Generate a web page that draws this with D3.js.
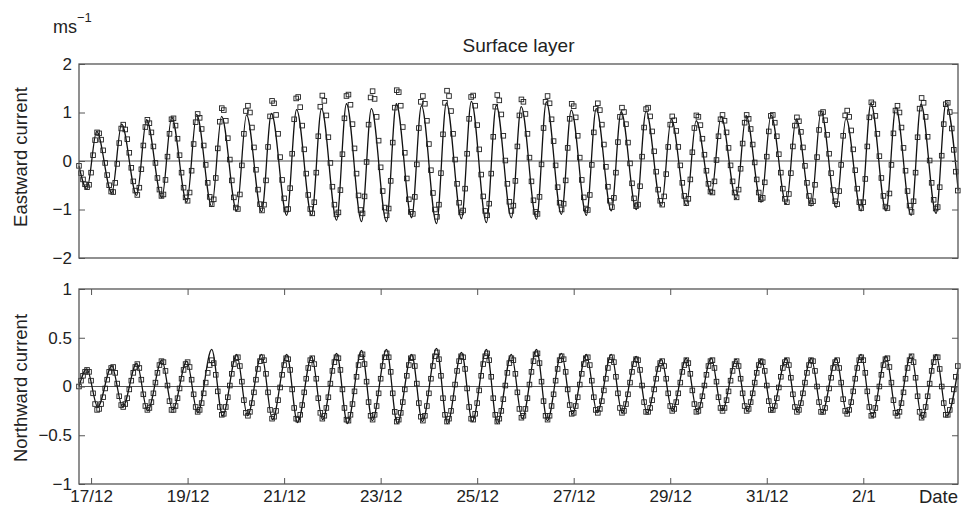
<!DOCTYPE html>
<html>
<head>
<meta charset="utf-8">
<script src="https://cdnjs.cloudflare.com/ajax/libs/d3/7.8.5/d3.min.js"></script>
<style>
  body { margin: 0; background: #fff; }
  text { font-family: "Liberation Sans", Arial, Helvetica, sans-serif; }
</style>
</head>
<body>
<div class="chart"></div>
<script>
// time reference: hours counted from 17/12 00:00
var baseDay = new Date(2000, 11, 17);
var firstHour = -6;     // left edge of the plots
var lastHour = 431.1;   // right edge of the plots

// date ticks (bottom panel)
var tickDays = ["2000-12-17", "2000-12-19", "2000-12-21", "2000-12-23", "2000-12-25",
  "2000-12-27", "2000-12-29", "2000-12-31", "2001-01-02"];
var tickLabels = ["17/12", "19/12", "21/12", "23/12", "25/12", "27/12", "29/12", "31/12", "2/1"];

var eastTicks = [-2, -1, 0, 1, 2];
var eastTickLabels = ["\u22122", "\u22121", "0", "1", "2"];
var northTicks = [-1, -0.5, 0, 0.5, 1];
var northTickLabels = ["\u22121", "\u22120.5", "0", "0.5", "1"];

// model (solid line): turning points [hour, m/s]
var modelEast = [[-6, -0.1], [-2.1, -0.58], [2.8, 0.61], [10.3, -0.66], [15.2, 0.76], [22.7, -0.71],
  [27.6, 0.85], [35.2, -0.76], [40.1, 0.90], [47.6, -0.85], [52.5, 0.96], [60.0, -0.94],
  [64.9, 0.92], [72.4, -1.03], [77.3, 0.95], [84.8, -1.05], [89.7, 0.98], [97.3, -1.12],
  [102.2, 1.06], [109.7, -1.12], [114.6, 1.08], [122.1, -1.22], [127.0, 1.18], [134.5, -1.25],
  [139.4, 1.08], [146.9, -1.25], [151.8, 1.18], [159.4, -1.17], [164.3, 1.14], [171.8, -1.29],
  [176.7, 1.20], [184.2, -1.19], [189.1, 1.23], [196.6, -1.27], [201.5, 1.15], [209.0, -1.17],
  [213.9, 1.12], [221.5, -1.20], [226.4, 1.22], [233.9, -1.10], [238.8, 1.05], [246.3, -1.12],
  [251.2, 1.08], [258.7, -1.03], [263.6, 1.02], [271.1, -1.00], [276.0, 1.03], [283.6, -0.93],
  [288.5, 0.87], [296.0, -0.92], [300.9, 0.83], [308.4, -0.68], [313.3, 0.92], [320.8, -0.78],
  [325.7, 0.94], [333.2, -0.85], [338.1, 0.95], [345.7, -0.89], [350.6, 0.87], [358.1, -0.93],
  [363.0, 1.03], [370.5, -0.96], [375.4, 0.88], [382.9, -1.03], [387.8, 1.19], [395.3, -1.03],
  [400.2, 1.10], [407.8, -1.12], [412.7, 1.17], [420.2, -1.08], [425.1, 1.19], [431.2, -0.61]];

var modelNorth = [[-6, 0.0], [-2.1, 0.18], [3.3, -0.21], [10.3, 0.21], [15.7, -0.21], [22.7, 0.24],
  [28.1, -0.25], [35.2, 0.27], [40.6, -0.24], [47.6, 0.26], [53.0, -0.27], [60.0, 0.38],
  [65.4, -0.30], [72.4, 0.33], [77.8, -0.30], [84.8, 0.33], [90.2, -0.34], [97.3, 0.33],
  [102.7, -0.37], [109.7, 0.31], [115.1, -0.34], [122.1, 0.34], [127.5, -0.38], [134.5, 0.37],
  [139.9, -0.35], [146.9, 0.38], [152.3, -0.38], [159.4, 0.33], [164.8, -0.36], [171.8, 0.39],
  [177.2, -0.38], [184.2, 0.35], [189.6, -0.36], [196.6, 0.38], [202.0, -0.38], [209.0, 0.33],
  [214.4, -0.33], [221.5, 0.38], [226.9, -0.35], [233.9, 0.34], [239.3, -0.28], [246.3, 0.33],
  [251.7, -0.27], [258.7, 0.33], [264.1, -0.27], [271.1, 0.31], [276.5, -0.27], [283.6, 0.28],
  [289.0, -0.25], [296.0, 0.29], [301.4, -0.26], [308.4, 0.29], [313.8, -0.25], [320.8, 0.28],
  [326.2, -0.25], [333.2, 0.28], [338.6, -0.25], [345.7, 0.29], [351.1, -0.26], [358.1, 0.29],
  [363.5, -0.27], [370.5, 0.29], [375.9, -0.28], [382.9, 0.33], [388.3, -0.31], [395.3, 0.31],
  [400.7, -0.30], [407.8, 0.33], [413.2, -0.33], [420.2, 0.33], [425.6, -0.30], [431.2, 0.19]];

// observations (squares): hourly values starting at firstHour
var obsEast = [-0.10, -0.25, -0.38, -0.48, -0.54,
  -0.49, -0.24, 0.12, 0.43, 0.59, 0.57, 0.44, 0.22, -0.04, -0.29, -0.50, -0.63,
  -0.64, -0.45, -0.06, 0.37, 0.67, 0.75, 0.65, 0.45, 0.17, -0.14, -0.42, -0.61, -0.70,
  -0.55, -0.17, 0.32, 0.70, 0.85, 0.78, 0.59, 0.30, -0.04, -0.35, -0.59, -0.72,
  -0.69, -0.39, 0.09, 0.56, 0.86, 0.88, 0.73, 0.46, 0.12, -0.24, -0.55, -0.75,
  -0.82, -0.65, -0.20, 0.35, 0.80, 0.97, 0.89, 0.66, 0.32, -0.08, -0.45, -0.74, -0.89,
  -0.79, -0.35, 0.26, 0.81, 1.09, 1.05, 0.83, 0.47, 0.03, -0.40, -0.75, -0.96,
  -0.99, -0.69, -0.09, 0.56, 1.03, 1.14, 1.00, 0.69, 0.28, -0.18, -0.59, -0.89, -1.02,
  -0.90, -0.40, 0.29, 0.92, 1.24, 1.19, 0.95, 0.56, 0.08, -0.39, -0.77, -1.00,
  -0.99, -0.56, 0.15, 0.86, 1.29, 1.32, 1.11, 0.73, 0.24, -0.26, -0.70, -0.99,
  -1.08, -0.85, -0.24, 0.51, 1.12, 1.35, 1.24, 0.94, 0.49, -0.04, -0.53, -0.90, -1.10,
  -1.06, -0.60, 0.14, 0.88, 1.34, 1.37, 1.16, 0.76, 0.26, -0.26, -0.71, -1.01,
  -1.08, -0.73, -0.02, 0.75, 1.31, 1.44, 1.28, 0.91, 0.42, -0.13, -0.62, -0.96, -1.12,
  -0.98, -0.41, 0.38, 1.10, 1.46, 1.42, 1.14, 0.70, 0.17, -0.36, -0.79, -1.05,
  -1.09, -0.74, -0.07, 0.68, 1.22, 1.34, 1.18, 0.83, 0.35, -0.19, -0.66, -1.00, -1.15,
  -0.90, -0.25, 0.55, 1.20, 1.45, 1.34, 1.03, 0.56, 0.03, -0.47, -0.86, -1.06,
  -1.02, -0.57, 0.15, 0.87, 1.32, 1.35, 1.14, 0.74, 0.24, -0.28, -0.73, -1.03,
  -1.12, -0.88, -0.26, 0.50, 1.12, 1.36, 1.25, 0.96, 0.52, 0.01, -0.47, -0.84, -1.03,
  -0.92, -0.41, 0.30, 0.94, 1.27, 1.22, 0.97, 0.56, 0.07, -0.42, -0.81, -1.05,
  -1.09, -0.74, -0.07, 0.68, 1.22, 1.34, 1.19, 0.86, 0.41, -0.09, -0.54, -0.86, -1.00,
  -0.88, -0.40, 0.27, 0.87, 1.18, 1.13, 0.90, 0.52, 0.07, -0.39, -0.75, -0.98,
  -1.01, -0.70, -0.08, 0.59, 1.08, 1.19, 1.05, 0.75, 0.34, -0.12, -0.53, -0.82, -0.95,
  -0.76, -0.24, 0.39, 0.91, 1.10, 1.01, 0.76, 0.38, -0.05, -0.46, -0.77, -0.93,
  -0.90, -0.52, 0.09, 0.69, 1.07, 1.10, 0.92, 0.61, 0.20, -0.22, -0.59, -0.82,
  -0.90, -0.73, -0.27, 0.29, 0.75, 0.92, 0.84, 0.62, 0.29, -0.09, -0.45, -0.72, -0.87,
  -0.78, -0.38, 0.18, 0.68, 0.94, 0.91, 0.74, 0.46, 0.13, -0.20, -0.47, -0.63,
  -0.65, -0.42, 0.02, 0.51, 0.86, 0.95, 0.83, 0.59, 0.27, -0.09, -0.42, -0.65, -0.75,
  -0.59, -0.16, 0.36, 0.79, 0.95, 0.87, 0.66, 0.34, -0.03, -0.38, -0.65, -0.79,
  -0.76, -0.44, 0.09, 0.61, 0.93, 0.95, 0.79, 0.51, 0.14, -0.24, -0.57, -0.78,
  -0.85, -0.68, -0.25, 0.30, 0.73, 0.90, 0.82, 0.60, 0.28, -0.10, -0.45, -0.72, -0.87,
  -0.83, -0.49, 0.08, 0.64, 0.98, 1.01, 0.84, 0.54, 0.15, -0.25, -0.60, -0.83,
  -0.89, -0.62, -0.08, 0.52, 0.94, 1.04, 0.91, 0.63, 0.24, -0.19, -0.57, -0.85, -0.97,
  -0.85, -0.37, 0.30, 0.90, 1.21, 1.17, 0.93, 0.56, 0.10, -0.35, -0.72, -0.94,
  -0.97, -0.67, -0.08, 0.57, 1.04, 1.14, 1.00, 0.69, 0.27, -0.20, -0.62, -0.92, -1.05,
  -0.83, -0.24, 0.49, 1.08, 1.30, 1.20, 0.91, 0.50, 0.01, -0.45, -0.80, -0.98,
  -0.95, -0.54, 0.11, 0.76, 1.17, 1.20, 1.01, 0.67, 0.23, -0.22, -0.61];

var obsNorth = [0.00, 0.06, 0.11, 0.15, 0.17,
  0.15, 0.06, -0.07, -0.18, -0.24, -0.23, -0.18, -0.11, -0.02, 0.07, 0.15, 0.19,
  0.20, 0.14, 0.03, -0.10, -0.19, -0.21, -0.18, -0.12, -0.03, 0.06, 0.14, 0.20, 0.23,
  0.19, 0.07, -0.08, -0.20, -0.24, -0.22, -0.16, -0.07, 0.04, 0.14, 0.22, 0.26,
  0.25, 0.16, 0.01, -0.15, -0.24, -0.24, -0.20, -0.12, -0.02, 0.08, 0.17, 0.23,
  0.25, 0.20, 0.07, -0.08, -0.21, -0.26, -0.24, -0.17, -0.07, 0.04, 0.14, 0.22, 0.27,
  0.24, 0.12, -0.05, -0.21, -0.29, -0.28, -0.21, -0.11, 0.01, 0.13, 0.23, 0.29,
  0.30, 0.21, 0.05, -0.14, -0.27, -0.30, -0.26, -0.17, -0.06, 0.07, 0.18, 0.26, 0.30,
  0.27, 0.13, -0.06, -0.24, -0.33, -0.31, -0.25, -0.14, -0.01, 0.12, 0.22, 0.29,
  0.28, 0.17, -0.03, -0.22, -0.33, -0.34, -0.29, -0.19, -0.06, 0.08, 0.19, 0.27,
  0.29, 0.23, 0.08, -0.12, -0.27, -0.33, -0.30, -0.22, -0.11, 0.03, 0.16, 0.25, 0.30,
  0.29, 0.17, -0.03, -0.22, -0.34, -0.35, -0.29, -0.18, -0.05, 0.10, 0.22, 0.30,
  0.33, 0.23, 0.05, -0.16, -0.30, -0.34, -0.29, -0.20, -0.07, 0.08, 0.21, 0.30, 0.34,
  0.30, 0.15, -0.07, -0.26, -0.36, -0.34, -0.27, -0.16, -0.03, 0.11, 0.22, 0.29,
  0.30, 0.21, 0.03, -0.17, -0.31, -0.35, -0.30, -0.20, -0.07, 0.08, 0.21, 0.31, 0.35,
  0.28, 0.11, -0.12, -0.29, -0.36, -0.33, -0.25, -0.12, 0.02, 0.16, 0.26, 0.31,
  0.30, 0.18, -0.02, -0.21, -0.33, -0.34, -0.28, -0.17, -0.04, 0.11, 0.23, 0.31,
  0.34, 0.27, 0.10, -0.12, -0.29, -0.36, -0.33, -0.25, -0.13, 0.01, 0.14, 0.24, 0.29,
  0.27, 0.13, -0.06, -0.23, -0.32, -0.30, -0.23, -0.12, 0.02, 0.15, 0.26, 0.33,
  0.34, 0.24, 0.05, -0.15, -0.30, -0.34, -0.30, -0.20, -0.08, 0.06, 0.18, 0.27, 0.31,
  0.28, 0.15, -0.03, -0.19, -0.28, -0.27, -0.20, -0.11, 0.02, 0.13, 0.23, 0.29,
  0.30, 0.22, 0.06, -0.11, -0.24, -0.27, -0.23, -0.15, -0.04, 0.08, 0.19, 0.27, 0.30,
  0.25, 0.10, -0.07, -0.22, -0.27, -0.25, -0.18, -0.08, 0.04, 0.15, 0.23, 0.28,
  0.27, 0.17, 0.01, -0.16, -0.26, -0.26, -0.22, -0.14, -0.03, 0.08, 0.18, 0.24,
  0.26, 0.21, 0.08, -0.07, -0.20, -0.25, -0.23, -0.16, -0.07, 0.04, 0.15, 0.22, 0.27,
  0.24, 0.13, -0.04, -0.18, -0.26, -0.25, -0.19, -0.10, 0.01, 0.12, 0.21, 0.26,
  0.27, 0.19, 0.05, -0.11, -0.22, -0.25, -0.22, -0.14, -0.05, 0.06, 0.16, 0.23, 0.26,
  0.21, 0.08, -0.07, -0.20, -0.25, -0.23, -0.16, -0.07, 0.04, 0.14, 0.22, 0.26,
  0.25, 0.16, 0.01, -0.15, -0.24, -0.24, -0.20, -0.12, -0.01, 0.10, 0.19, 0.25,
  0.27, 0.22, 0.09, -0.08, -0.21, -0.26, -0.24, -0.17, -0.07, 0.04, 0.14, 0.22, 0.27,
  0.26, 0.16, 0.00, -0.16, -0.26, -0.26, -0.22, -0.13, -0.02, 0.09, 0.19, 0.25,
  0.27, 0.19, 0.04, -0.13, -0.25, -0.28, -0.24, -0.16, -0.05, 0.08, 0.19, 0.27, 0.30,
  0.27, 0.14, -0.05, -0.21, -0.30, -0.29, -0.22, -0.12, 0.00, 0.12, 0.22, 0.28,
  0.29, 0.20, 0.04, -0.14, -0.27, -0.30, -0.26, -0.17, -0.06, 0.08, 0.19, 0.27, 0.31,
  0.25, 0.09, -0.10, -0.26, -0.32, -0.29, -0.21, -0.10, 0.03, 0.16, 0.25, 0.30,
  0.30, 0.18, 0.00, -0.17, -0.29, -0.29, -0.24, -0.15, -0.03, 0.10, 0.21];

var svgWidth = 961;
var svgHeight = 510;
var plotLeft = 79;
var plotRight = 958;
var fontStack = '"Liberation Sans", Arial, Helvetica, sans-serif';
var frameColor = "#555";

function hourToDate(h) {
  return new Date(baseDay.getTime() + h * 3600000);
}
var parseDay = d3.timeParse("%Y-%m-%d");

var svg = d3.select(".chart")
  .append("svg")
  .attr("width", svgWidth)
  .attr("height", svgHeight)
  .style("background", "#fff");

var xTimeScale = d3.scaleTime()
  .domain([hourToDate(firstHour), hourToDate(lastHour)])
  .range([plotLeft, plotRight]);

var line = d3.line()
  .x(d => xTimeScale(hourToDate(d[0])))
  .curve(d3.curveMonotoneX);

function drawPanel(opts) {
  var yScale = d3.scaleLinear()
    .domain(opts.domain)
    .range([opts.bottom, opts.top]);

  var g = svg.append("g");

  // zero line
  g.append("line")
    .attr("x1", plotLeft).attr("x2", plotRight)
    .attr("y1", yScale(0)).attr("y2", yScale(0))
    .attr("stroke", "#555")
    .attr("stroke-width", 1.2);

  // model line
  g.append("path")
    .datum(opts.model)
    .attr("d", line.y(d => yScale(d[1])))
    .attr("fill", "none")
    .attr("stroke", "#111")
    .attr("stroke-width", 1.3);

  // observations
  var obs = opts.obs.map((v, i) => ({ date: hourToDate(firstHour + i), value: v }));
  g.selectAll("rect.obs")
    .data(obs)
    .enter()
    .append("rect")
    .attr("class", "obs")
    .attr("x", d => xTimeScale(d.date) - 2.3)
    .attr("y", d => yScale(d.value) - 2.3)
    .attr("width", 4.6)
    .attr("height", 4.6)
    .attr("fill", "none")
    .attr("stroke", "#222")
    .attr("stroke-width", 0.9);

  // y axes, ticks pointing inwards
  var yLeft = g.append("g")
    .attr("transform", `translate(${plotLeft}, 0)`)
    .call(d3.axisLeft(yScale)
      .tickValues(opts.ticks)
      .tickFormat((d, i) => opts.tickLabels[i])
      .tickSizeInner(-6).tickSizeOuter(0).tickPadding(7));
  var yRight = g.append("g")
    .attr("transform", `translate(${plotRight}, 0)`)
    .call(d3.axisRight(yScale)
      .tickValues(opts.ticks)
      .tickFormat("")
      .tickSizeInner(-6).tickSizeOuter(0));

  [yLeft, yRight].forEach(function(a) {
    a.select(".domain").remove();
    a.attr("font-family", fontStack).attr("font-size", 17).attr("color", "#222");
    a.selectAll(".tick line").attr("stroke", frameColor);
  });

  if (opts.dateAxis) {
    var xb = g.append("g")
      .attr("transform", `translate(0, ${opts.bottom})`)
      .call(d3.axisBottom(xTimeScale)
        .tickValues(tickDays.map(parseDay))
        .tickFormat((d, i) => tickLabels[i])
        .tickSizeInner(-6).tickSizeOuter(0).tickPadding(6));
    var xt = g.append("g")
      .attr("transform", `translate(0, ${opts.top})`)
      .call(d3.axisTop(xTimeScale)
        .tickValues(tickDays.map(parseDay))
        .tickFormat("")
        .tickSizeInner(-6).tickSizeOuter(0));
    [xb, xt].forEach(function(a) {
      a.select(".domain").remove();
      a.attr("font-family", fontStack).attr("font-size", 17).attr("color", "#222");
      a.selectAll(".tick line").attr("stroke", frameColor);
    });
  }

  // frame
  g.append("rect")
    .attr("x", plotLeft)
    .attr("y", opts.top)
    .attr("width", plotRight - plotLeft)
    .attr("height", opts.bottom - opts.top)
    .attr("fill", "none")
    .attr("stroke", frameColor)
    .attr("stroke-width", 1.3);

  // axis label
  g.append("text")
    .attr("transform", `translate(27, ${opts.labelY}) rotate(-90)`)
    .attr("text-anchor", "middle")
    .attr("font-size", 18.5)
    .attr("fill", "#222")
    .text(opts.label);
}

drawPanel({
  top: 64, bottom: 258, domain: [-2, 2],
  ticks: eastTicks, tickLabels: eastTickLabels,
  model: modelEast, obs: obsEast,
  label: "Eastward current", labelY: 157, dateAxis: false
});

drawPanel({
  top: 289, bottom: 484, domain: [-1, 1],
  ticks: northTicks, tickLabels: northTickLabels,
  model: modelNorth, obs: obsNorth,
  label: "Northward current", labelY: 388, dateAxis: true
});

// title, units and date label
svg.append("text")
  .attr("x", (plotLeft + plotRight) / 2)
  .attr("y", 52)
  .attr("text-anchor", "middle")
  .attr("font-size", 19)
  .attr("fill", "#222")
  .text("Surface layer");

var units = svg.append("text")
  .attr("x", 53)
  .attr("y", 33)
  .attr("font-size", 18)
  .attr("fill", "#222");
units.append("tspan").text("ms");
units.append("tspan")
  .attr("dy", -11)
  .attr("font-size", 13)
  .text("\u22121");

svg.append("text")
  .attr("x", plotRight)
  .attr("y", 503)
  .attr("text-anchor", "end")
  .attr("font-size", 18.5)
  .attr("fill", "#222")
  .text("Date");
</script>
</body>
</html>
